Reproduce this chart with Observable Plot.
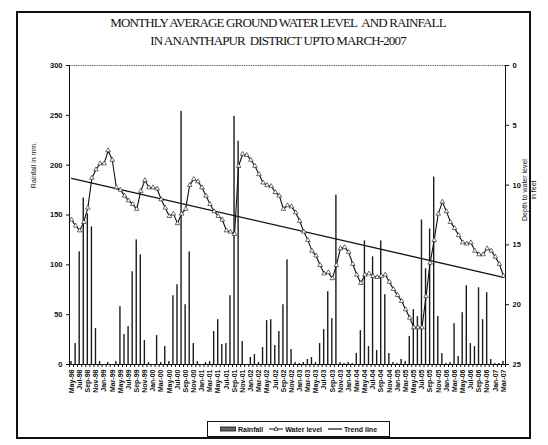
<!DOCTYPE html>
<html>
<head>
<meta charset="utf-8">
<script src="https://cdn.jsdelivr.net/npm/d3@7"></script>
<script src="https://cdn.jsdelivr.net/npm/@observablehq/plot@0.6"></script>
<style>
  html, body { margin: 0; padding: 0; background: #fff; }
  #page { position: relative; width: 548px; height: 445px; overflow: hidden; background: #fff; }
  #frame { position: absolute; left: 16px; top: 11px; width: 515px; height: 428px; border: 2px solid #111; box-sizing: border-box; }
  #title { position: absolute; left: 0; top: 14px; width: 556px; text-align: center;
           font-family: "Liberation Serif", serif; font-size: 13px; line-height: 18px; letter-spacing: -0.85px; color: #111; }
  #chart { position: absolute; left: 0; top: 0; }
  #ylab { position: absolute; left: 33px; top: 165px; transform: translate(-50%, -50%) rotate(-90deg);
          font-family: "Liberation Sans", sans-serif; font-size: 7px; white-space: nowrap; color: #111; }
  #y2lab { position: absolute; left: 529px; top: 190px; transform: translate(-50%, -50%) rotate(-90deg);
          font-family: "Liberation Sans", sans-serif; font-size: 7px; line-height: 9px; text-align: center; white-space: nowrap; color: #111; }
  #legend { position: absolute; left: 207px; top: 421px; width: 183px; height: 16px; border: 1px solid #111; box-sizing: border-box;
            display: flex; align-items: center; justify-content: center; gap: 6px;
            font-family: "Liberation Sans", sans-serif; font-size: 7px; font-weight: bold; color: #111; }
  .item { display: flex; align-items: center; gap: 2px; }
</style>
</head>
<body>
<div id="page">
  <div id="frame"></div>
  <div id="title">MONTHLY AVERAGE GROUND WATER LEVEL&nbsp; AND RAINFALL<br>IN ANANTHAPUR&nbsp; DISTRICT UPTO MARCH-2007</div>
  <div id="chart"></div>
  <div id="ylab">Rainfall in mm.</div>
  <div id="y2lab">Depth to water level<br>in feet</div>
  <div id="legend">
    <span class="item"><svg width="16" height="6"><rect x="0" y="1" width="16" height="4" fill="#666" stroke="#111" stroke-width="0.8"/></svg>Rainfall</span>
    <span class="item"><svg width="14" height="8"><line x1="0" y1="4" x2="14" y2="4" stroke="#111" stroke-width="1"/><path d="M7,1.8 L9,5.4 L5,5.4 Z" fill="#fff" stroke="#111" stroke-width="0.7"/></svg>Water level</span>
    <span class="item"><svg width="14" height="8"><line x1="0" y1="4" x2="14" y2="4" stroke="#111" stroke-width="1.2"/></svg>Trend line</span>
  </div>
</div>
<script>
// Month categories (May-98 .. Mar-07)
const months = [
  "May-98","Jun-98","Jul-98","Aug-98","Sep-98","Oct-98","Nov-98","Dec-98",
  "Jan-99","Feb-99","Mar-99","Apr-99","May-99","Jun-99","Jul-99","Aug-99","Sep-99","Oct-99","Nov-99","Dec-99",
  "Jan-00","Feb-00","Mar-00","Apr-00","May-00","Jun-00","Jul-00","Aug-00","Sep-00","Oct-00","Nov-00","Dec-00",
  "Jan-01","Feb-01","Mar-01","Apr-01","May-01","Jun-01","Jul-01","Aug-01","Sep-01","Oct-01","Nov-01","Dec-01",
  "Jan-02","Feb-02","Mar-02","Apr-02","May-02","Jun-02","Jul-02","Aug-02","Sep-02","Oct-02","Nov-02","Dec-02",
  "Jan-03","Feb-03","Mar-03","Apr-03","May-03","Jun-03","Jul-03","Aug-03","Sep-03","Oct-03","Nov-03","Dec-03",
  "Jan-04","Feb-04","Mar-04","Apr-04","May-04","Jun-04","Jul-04","Aug-04","Sep-04","Oct-04","Nov-04","Dec-04",
  "Jan-05","Feb-05","Mar-05","Apr-05","May-05","Jun-05","Jul-05","Aug-05","Sep-05","Oct-05","Nov-05","Dec-05",
  "Jan-06","Feb-06","Mar-06","Apr-06","May-06","Jun-06","Jul-06","Aug-06","Sep-06","Oct-06","Nov-06","Dec-06",
  "Jan-07","Feb-07","Mar-07"
];

// Monthly rainfall, mm
const rainfall = [
  3, 21, 113, 167, 151, 138, 36, 3,
  0, 2, 0, 3, 58, 30, 38, 93, 125, 110, 24, 2,
  0, 29, 2, 18, 3, 69, 80, 254, 60, 113, 21, 3,
  0, 2, 3, 33, 45, 20, 21, 69, 249, 224, 23, 0,
  7, 10, 2, 17, 44, 45, 19, 33, 60, 105, 15, 2,
  1, 2, 5, 7, 2, 21, 35, 73, 46, 170, 2, 1,
  2, 1, 11, 34, 124, 18, 108, 14, 124, 70, 11, 2,
  1, 5, 3, 28, 55, 48, 145, 96, 136, 188, 48, 11,
  1, 2, 41, 8, 52, 79, 21, 18, 77, 45, 72, 5,
  1, 1, 3
];

// Depth to water level, feet
const waterLevel = [
  12.9, 13.4, 13.8, 13.1, 11.9, 9.4, 8.7, 8.2, 8.2, 7.1,
  7.9, 10.2, 10.4, 10.9, 11.3, 11.6, 12.0, 10.5, 9.6, 10.2,
  10.2, 10.3, 11.2, 11.9, 12.6, 12.4, 13.2, 12.4, 12.0, 10.0,
  9.5, 9.7, 10.2, 10.9, 11.6, 12.2, 12.6, 12.9, 13.8, 13.9,
  14.1, 8.4, 7.4, 7.5, 7.9, 8.4, 9.1, 9.8, 10.0, 10.1,
  10.6, 10.9, 12.0, 11.7, 11.8, 12.3, 13.0, 13.9, 14.6, 15.5,
  15.9, 16.7, 17.4, 17.3, 17.8, 16.7, 15.3, 15.2, 15.6, 16.6,
  17.5, 18.2, 17.5, 17.4, 17.6, 17.7, 17.6, 17.5, 18.1, 18.7,
  19.2, 19.7, 20.4, 21.1, 21.9, 21.9, 21.9, 19.3, 16.5, 14.6,
  12.4, 11.4, 12.2, 13.1, 13.6, 14.2, 14.8, 14.9, 14.8, 15.5,
  15.8, 15.8, 15.3, 15.5, 16.0, 16.6, 17.6
];

const rainTicks = [0, 50, 100, 150, 200, 250, 300];
const depthTicks = [0, 5, 10, 15, 20, 25];
const rainMax = 300, depthMax = 25;

// depth axis shares the plot's y scale: depth 0 at top (300 mm), 25 at bottom (0 mm)
const depthToY = d => rainMax - d * (rainMax / depthMax);
const yToDepth = v => (rainMax - v) / (rainMax / depthMax);

const rows = months.map((m, i) => ({i, month: m, rain: rainfall[i], depth: waterLevel[i], yd: depthToY(waterLevel[i])}));
const labelIdx = rows.filter(d => d.i % 2 === 0).map(d => d.i);
const boundaries = d3.range(months.length + 1).map(i => i - 0.5);

const font = "Liberation Sans, sans-serif";

const chart = Plot.plot({
  width: 548,
  height: 400,
  marginLeft: 69,
  marginRight: 43,
  marginTop: 65,
  marginBottom: 36,
  style: {fontFamily: font, fontSize: "7px", fontWeight: "bold", color: "#111", background: "transparent"},
  x: {type: "linear", domain: [-0.5, months.length - 0.5], axis: null},
  y: {domain: [0, rainMax], axis: null},
  marks: [
    Plot.ruleY([rainMax], {stroke: "#444", strokeWidth: 0.8, strokeDasharray: "1.5,0.8"}),
    Plot.rectY(rows, {x1: d => d.i - 0.17, x2: d => d.i + 0.17, y: "rain", fill: "#1a1a1a"}),
    Plot.linearRegressionY(rows, {x: "i", y: "yd", ci: 0, stroke: "#111", strokeWidth: 1.3}),
    Plot.line(rows, {x: "i", y: "yd", stroke: "#111", strokeWidth: 1.1}),
    Plot.dot(rows, {x: "i", y: "yd", symbol: "triangle", r: 1.7, stroke: "#111", strokeWidth: 0.6, fill: "#fff"}),
    // left axis
    Plot.axisY(rainTicks, {anchor: "left", tickSize: 3, tickPadding: 4, fontSize: 7.5, fontWeight: "bold", label: null}),
    Plot.ruleX([-0.5], {stroke: "#111", strokeWidth: 1}),
    // right axis (depth)
    Plot.axisY(depthTicks.map(depthToY), {anchor: "right", tickSize: 3, tickPadding: 4, tickFormat: v => yToDepth(v), fontSize: 7.5, fontWeight: "bold", label: null}),
    Plot.ruleX([months.length - 0.5], {stroke: "#111", strokeWidth: 1}),
    // bottom axis
    Plot.ruleY([0], {stroke: "#111", strokeWidth: 1}),
    Plot.axisX(boundaries, {anchor: "bottom", tickSize: 3, tickFormat: () => "", label: null}),
    Plot.axisX(labelIdx, {anchor: "bottom", tickSize: 0, tickPadding: 5, tickRotate: -90, tickFormat: i => months[i], fontSize: 7, fontWeight: "bold", label: null})
  ]
});
document.getElementById("chart").appendChild(chart);
</script>
</body>
</html>
